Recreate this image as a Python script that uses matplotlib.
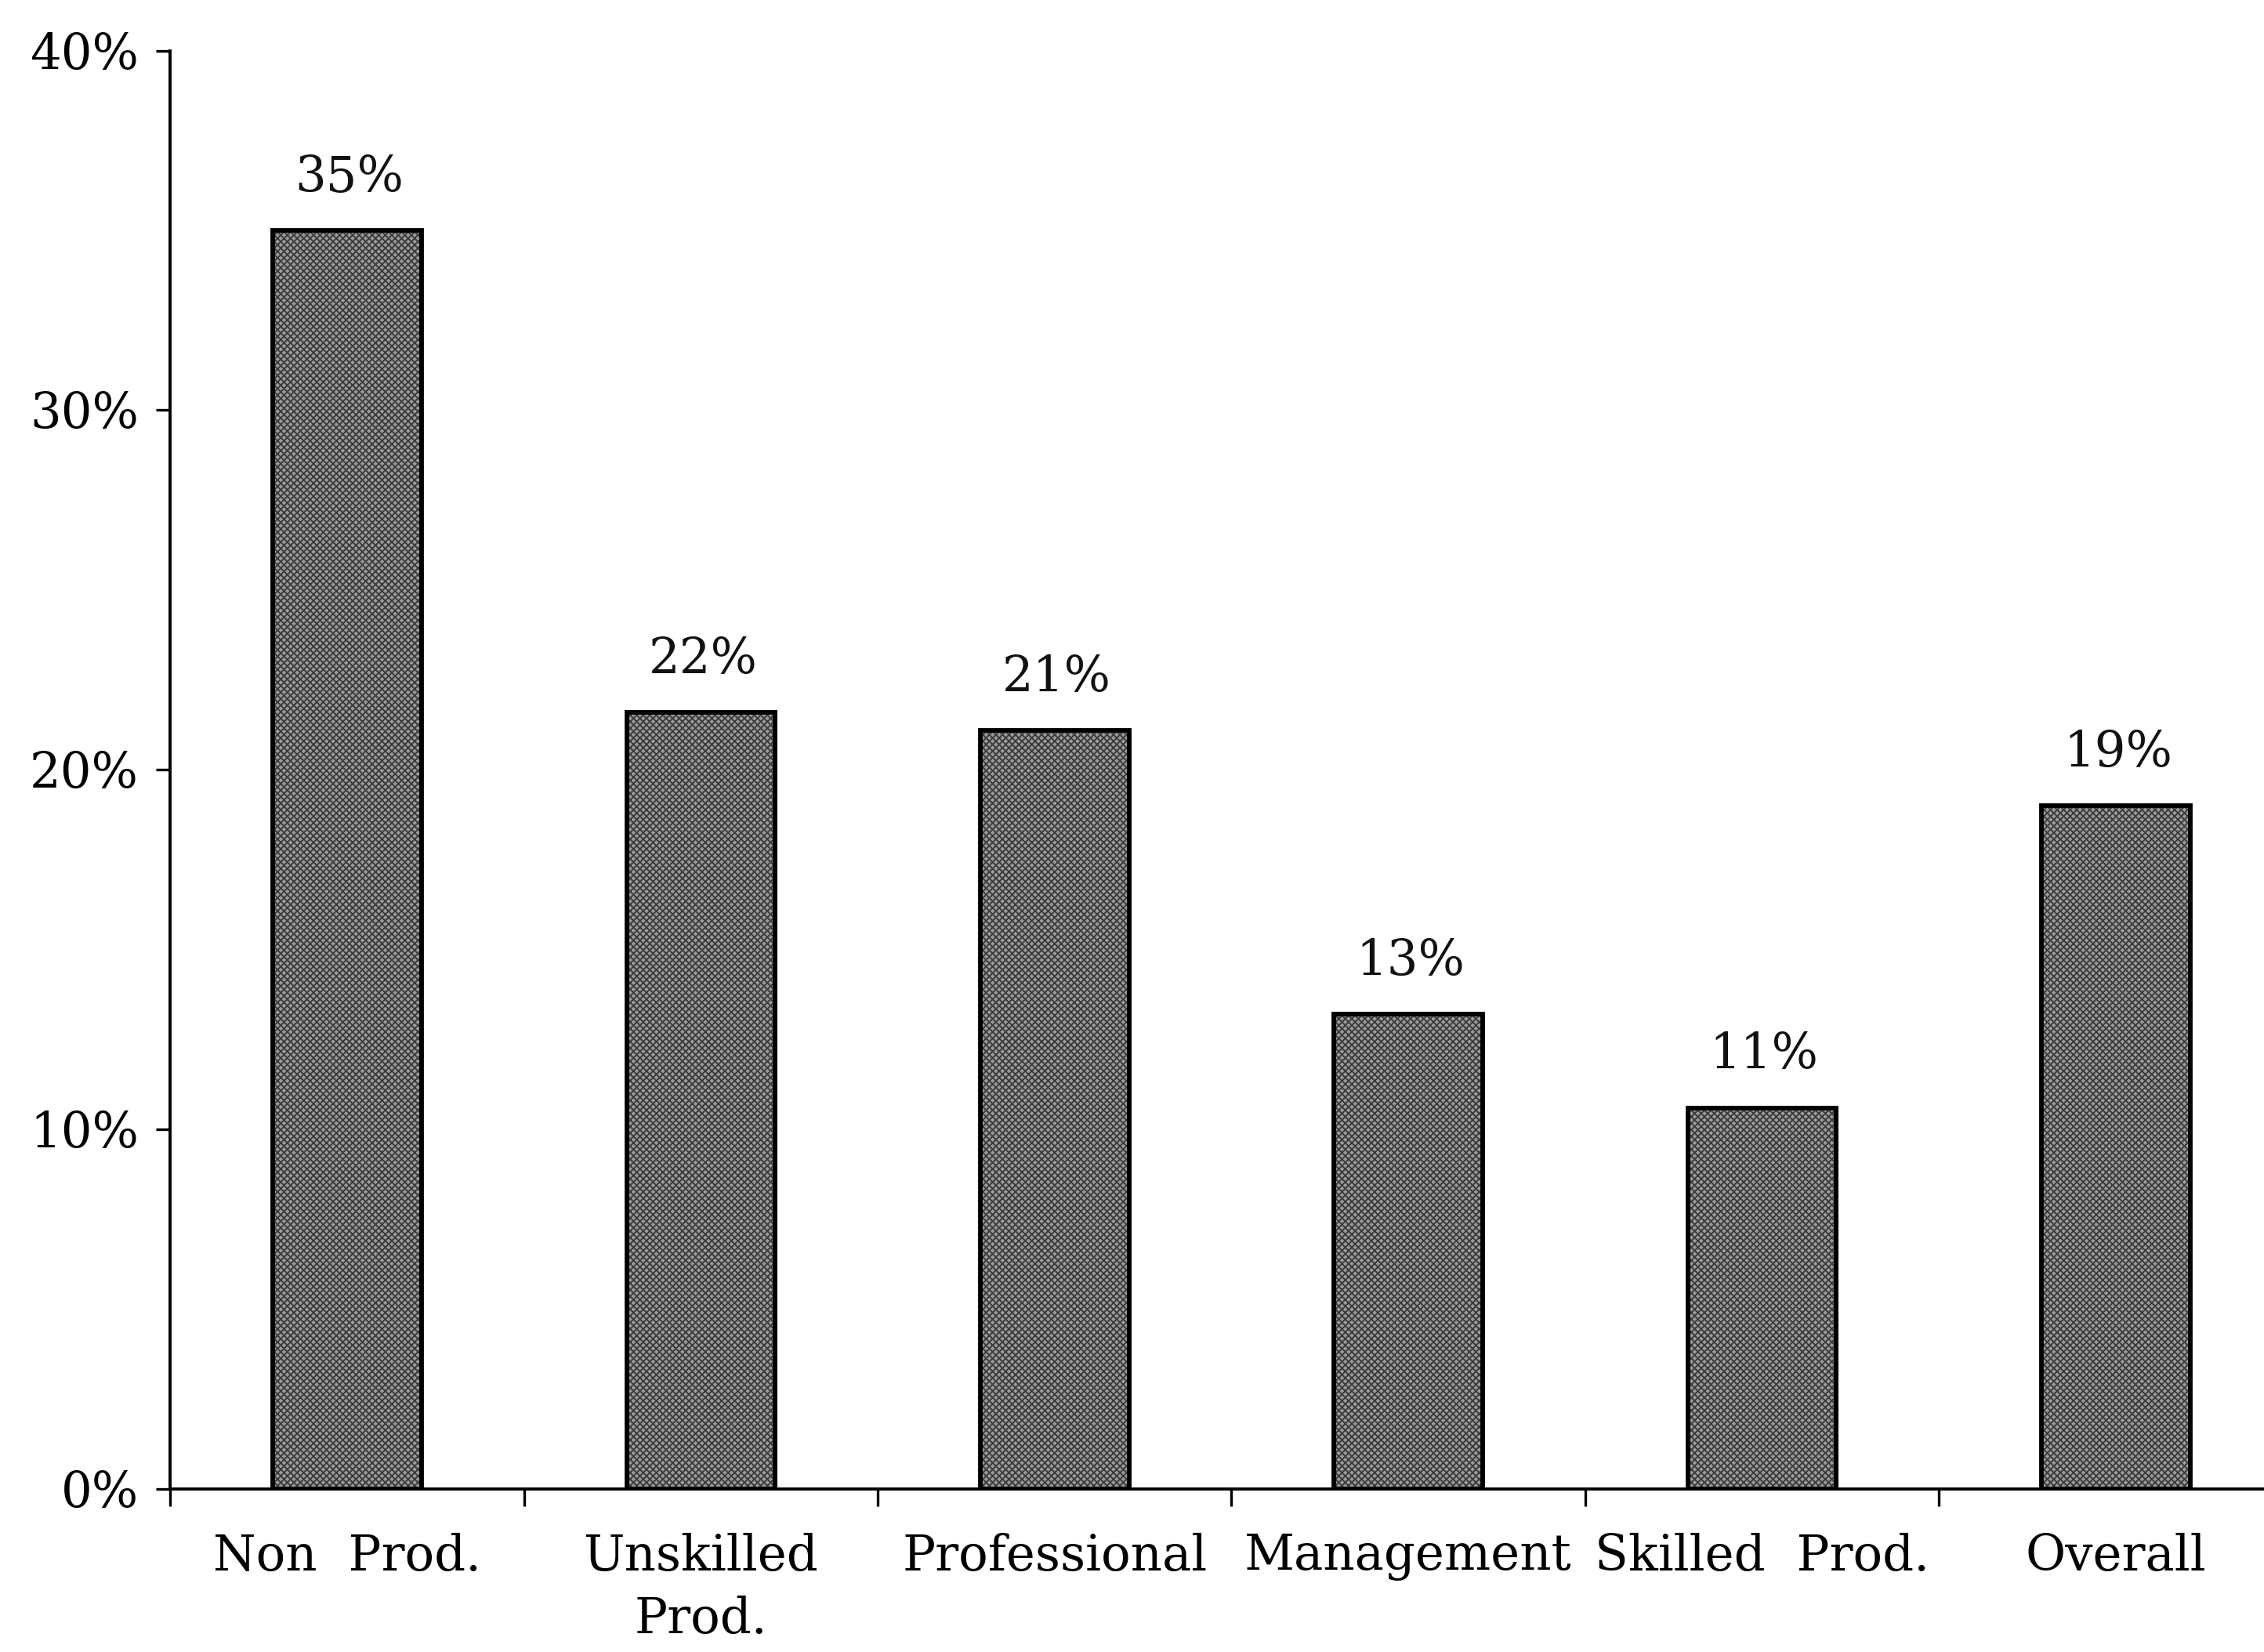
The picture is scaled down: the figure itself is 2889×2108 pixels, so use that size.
import matplotlib
matplotlib.use("Agg")
import matplotlib.pyplot as plt
import numpy as np

categories = ["Non  Prod.", "Unskilled\nProd.", "Professional", "Management", "Skilled  Prod.", "Overall"]
values = [35.0, 21.6, 21.1, 13.2, 10.6, 19.0]
value_labels = ["35%", "22%", "21%", "13%", "11%", "19%"]
y_ticks = [0, 10, 20, 30, 40]
y_tick_labels = ["0%", "10%", "20%", "30%", "40%"]

plt.rcParams["font.family"] = ["DejaVu Serif"]
plt.rcParams["hatch.linewidth"] = 1.4

fig = plt.figure(figsize=(28.89, 21.08), dpi=100)
ax = fig.add_axes([0.0752, 0.0987, 0.9375, 0.8707])

x = np.arange(len(categories))
# textured gray fill, then black outline on top
ax.bar(x, values, width=0.42, color="#9c9c9c", edgecolor="#3c3c3c",
       hatch="xxxx", linewidth=0, zorder=2)
ax.bar(x, values, width=0.42, fill=False, edgecolor="black", linewidth=4.2, zorder=3)

for xi, v, lab in zip(x, values, value_labels):
    ax.annotate(lab, (xi, v), xytext=(2, 26), textcoords="offset points",
                ha="center", va="bottom", fontsize=45, color="#111111")

ax.set_xlim(-0.5, len(categories) - 0.5)
ax.set_ylim(0, 40)

ax.set_yticks(y_ticks)
ax.set_yticklabels(y_tick_labels)
ax.tick_params(axis="y", direction="out", length=13, width=2.4, pad=16,
               labelsize=45, colors="black")

# boundary ticks below the axis, labels at category centres
ax.set_xticks(np.arange(len(categories) + 1) - 0.5)
ax.set_xticklabels([])
ax.tick_params(axis="x", which="major", direction="out", length=16, width=2.4)
ax.set_xticks(x, minor=True)
ax.set_xticklabels(categories, minor=True, linespacing=1.4)
ax.tick_params(axis="x", which="minor", length=0, pad=40, labelsize=45)

for side in ["top", "right"]:
    ax.spines[side].set_visible(False)
for side in ["left", "bottom"]:
    ax.spines[side].set_linewidth(2.8)

fig.savefig("out.png", dpi=100, facecolor="white")
